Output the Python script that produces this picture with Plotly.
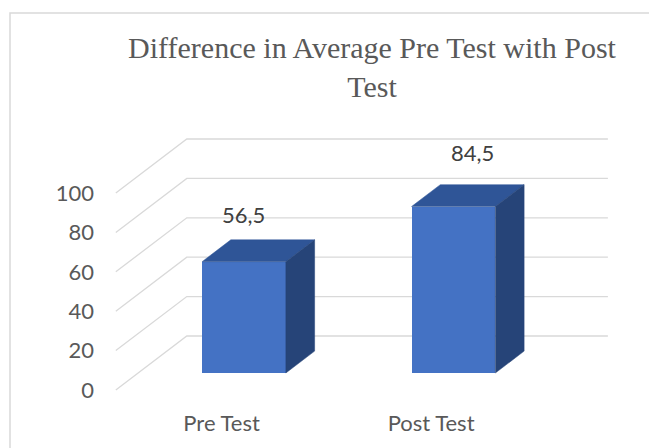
import plotly.graph_objects as go

# ---------------- data ----------------
CATEGORIES = ["Pre Test", "Post Test"]
VALUES = [56.5, 84.5]
Y_TICKS = [0, 20, 40, 60, 80, 100]
TITLE_LINES = ["Difference in Average Pre Test with Post", "Test"]

# ---------------- layout / projection geometry ----------------
PAGE_W, PAGE_H = 657, 448
OFF = 8                       # default body margin of the html page
W, H = PAGE_W - OFF, PAGE_H - OFF
X0_PX, SX = 221.6 - OFF, 209.5   # pixel of category 0 (front plane), px per category step
Y0_PX, SY = 390.0 - OFF, 1.97    # pixel of value 0 (front plane), px per value unit
DEPTH_PX = (71.0, -54.0)         # pixel shift from front edge of floor to back wall
DX = DEPTH_PX[0] / SX            # depth shift in x-axis units
DY = -DEPTH_PX[1] / SY           # depth shift in y-axis units
Z0, Z1 = 0.315, 0.72             # bar front / back depth fraction
HW = 0.2                         # half bar width (category units)
FLOOR_X = (-0.505, 1.505)        # extent of floor / walls in category units

L_PX, R_PX, T_PX, B_PX = 114 - OFF, 620 - OFF, 130 - OFF, 396 - OFF
x_range = [(L_PX - X0_PX) / SX, (R_PX - X0_PX) / SX]
y_range = [(Y0_PX - B_PX) / SY, (Y0_PX - T_PX) / SY]

FRONT = "#4472C4"
TOP = "#2F5597"
SIDE = "#264478"
GRID = "#D9D9D9"
TXT = "#595959"
LBL = "#404040"
SANS = "Lato"
FS = 22


def proj(x, v, z):
    return x + DX * z, v + DY * z


fig = go.Figure()

# back wall gridlines with their floor-side diagonals (below the bars)
for t in Y_TICKS:
    pts = [proj(FLOOR_X[0], t, 0), proj(FLOOR_X[0], t, 1), proj(FLOOR_X[1], t, 1)]
    path = "M " + " L ".join(f"{px},{py}" for px, py in pts)
    fig.add_shape(type="path", path=path, xref="x", yref="y", layer="below",
                  line=dict(color=GRID, width=1.3))

# bars: front face as real bars, top and side as projected polygons
xs = list(range(len(CATEGORIES)))
fig.add_trace(go.Bar(x=[proj(i, 0, Z0)[0] for i in xs], y=VALUES,
                     base=[proj(0, 0, Z0)[1]] * len(VALUES), width=2 * HW,
                     marker=dict(color=FRONT, line=dict(width=0)),
                     hoverinfo="skip", showlegend=False))

for i, v in zip(xs, VALUES):
    top = [proj(i - HW, v, Z0), proj(i + HW, v, Z0), proj(i + HW, v, Z1), proj(i - HW, v, Z1)]
    side = [proj(i + HW, v, Z0), proj(i + HW, 0, Z0), proj(i + HW, 0, Z1), proj(i + HW, v, Z1)]
    for poly, col in [(top, TOP), (side, SIDE)]:
        px = [p[0] for p in poly] + [poly[0][0]]
        py = [p[1] for p in poly] + [poly[0][1]]
        fig.add_trace(go.Scatter(x=px, y=py, mode="lines", fill="toself", fillcolor=col,
                                 line=dict(color=col, width=0.5), hoverinfo="skip",
                                 showlegend=False))

# data labels
LABEL_SHIFT = [(-15, 36), (5, 43)]
for (i, v), (sx, sy) in zip(zip(xs, VALUES), LABEL_SHIFT):
    cx, cy = proj(i, v, (Z0 + Z1) / 2)
    fig.add_annotation(x=cx, y=cy, text=f"{v:.1f}".replace(".", ","), showarrow=False,
                       xshift=sx, yshift=sy, font=dict(family=SANS, size=FS, color=LBL))

# chart frame
pw, ph = R_PX - L_PX, B_PX - T_PX
fig.add_shape(type="rect", xref="paper", yref="paper",
              x0=(10 - OFF - L_PX) / pw, x1=(W + 20 - L_PX) / pw,
              y0=(B_PX - (H + 20)) / ph, y1=(B_PX - (13 - OFF)) / ph,
              line=dict(color=GRID, width=1.5), fillcolor="rgba(0,0,0,0)", layer="below")

fig.update_layout(
    width=W, height=H,
    margin=dict(l=L_PX, r=W - R_PX, t=T_PX, b=H - B_PX, pad=0),
    paper_bgcolor="white", plot_bgcolor="white",
    title=dict(text="<br>".join(TITLE_LINES), x=(372 - OFF) / W, xanchor="center",
               y=1 - 50 / H, yanchor="middle", xref="container", yref="container",
               font=dict(family="Liberation Serif", size=30, color=TXT)),
    xaxis=dict(range=x_range, tickvals=xs, ticktext=CATEGORIES, showgrid=False,
               zeroline=False, showline=False, ticks="", ticklabelstandoff=12,
               tickfont=dict(family=SANS, size=FS, color=TXT), fixedrange=True),
    yaxis=dict(range=y_range, tickvals=Y_TICKS, showgrid=False, zeroline=False,
               showline=False, ticks="", ticklabelstandoff=19,
               tickfont=dict(family=SANS, size=FS, color=TXT), fixedrange=True),
    bargap=0,
)

fig.write_html("out.html")
